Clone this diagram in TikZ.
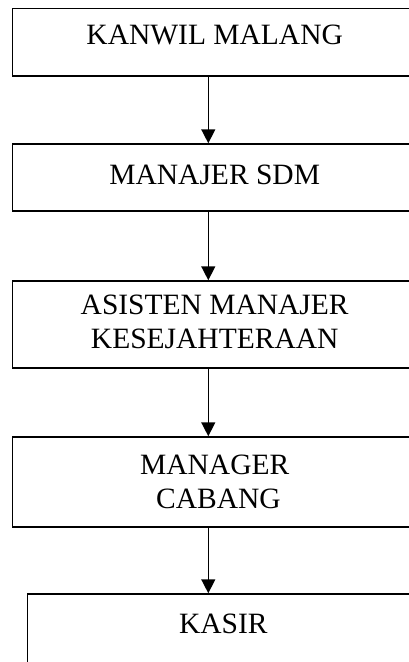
\documentclass[tikz,border=0pt]{standalone}
\usepackage{fontspec}
\setmainfont{Liberation Serif}
\usetikzlibrary{positioning}
\usetikzlibrary{arrows.meta}
\tikzset{every picture/.style={line width=1.5pt}}
\tikzset{box/.style={draw, minimum width=404pt, inner sep=0pt},
    lbl/.style={inner sep=0pt, align=center, font=\fontsize{29.5pt}{34pt}\selectfont},
    arr/.style={-{Triangle[width=14pt,length=14pt]}}}

\begin{document}
\begin{tikzpicture}
    \path[use as bounding box, clip] (0,0) rectangle (409pt,-662pt);
    \coordinate (axis) at (208.3pt,0);

    \node (kanwil) [box, minimum height=67.7pt] at (214.7pt,-42.2pt) {};
    \node (sdm) [below of=kanwil, node distance=135.3pt, box, minimum height=67pt] {};
    \node (asisten) [below of=sdm, node distance=147pt, box, minimum height=87pt] {};
    \node (manager) [below of=asisten, node distance=157.5pt, box, minimum height=90pt] {};
    \node (kasir) [below of=manager, node distance=149pt, xshift=14.6pt, box, minimum height=74pt] {};

    \node (kanwilt) [below=16.7pt of kanwil.north, lbl] {KANWIL MALANG};
    \node (sdmt) [below=21pt of sdm.north, lbl] {MANAJER SDM};
    \node (asistent) [below=14pt of asisten.north, lbl] {ASISTEN MANAJER\\KESEJAHTERAAN};
    \node (managert) [below=18pt of manager.north, lbl] {MANAGER\\~CABANG};
    \node (kasirt) [below=19.5pt of kasir.north, xshift=-6pt, lbl] {KASIR};

    \draw[arr] (kanwil.south -| axis) -- (sdm.north -| axis);
    \draw[arr] (sdm.south -| axis) -- (asisten.north -| axis);
    \draw[arr] (asisten.south -| axis) -- (manager.north -| axis);
    \draw[arr] (manager.south -| axis) -- (kasir.north -| axis);
\end{tikzpicture}
\end{document}
